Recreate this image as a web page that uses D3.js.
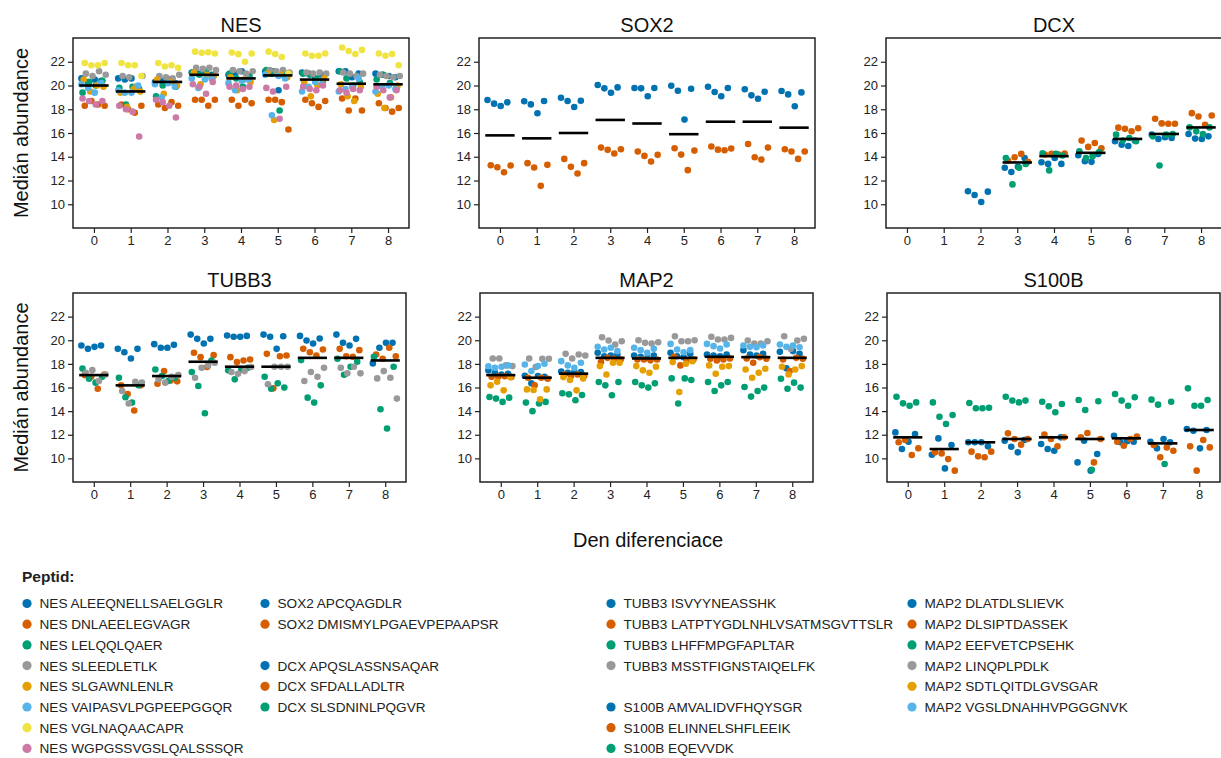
<!DOCTYPE html>
<html lang="cs">
<head>
<meta charset="UTF-8">
<title>Median abundance</title>
<script src="https://d3js.org/d3.v7.min.js"></script>
<style>
  body { margin: 0; background: #fff; font-family: "Liberation Sans", Arial, sans-serif; }
  .tick text { font-family: "Liberation Sans Narrow", "Arial Narrow", "Liberation Sans", Arial, sans-serif; font-size: 13px; fill: #222; }
  .tick line { stroke: #222; stroke-width: 1.2px; }
  .frame { fill: none; stroke: #222; stroke-width: 1.5px; }
  .title { font-size: 20px; fill: #111; text-anchor: middle; }
  .axis-label { font-size: 20px; fill: #111; text-anchor: middle; }
  .legend text { font-size: 13.6px; fill: #222; }
</style>
</head>
<body>
<script>
// Okabe-Ito colours used for the peptides
const C = {
  blue: "#0072B2", verm: "#D55E00", green: "#009E73", gray: "#999999",
  orange: "#E69F00", sky: "#56B4E9", yellow: "#F0E442", pink: "#CC79A7"
};

const days = [0, 1, 2, 3, 4, 5, 6, 7, 8];
const yTicks = [10, 12, 14, 16, 18, 20, 22];

// ---- NES ----
const nesPeptides = ["NES ALEEQNELLSAELGGLR", "NES DNLAEELEGVAGR", "NES LELQQLQAER", "NES SLEEDLETLK",
  "NES SLGAWNLENLR", "NES VAIPASVLPGPEEPGGQR", "NES VGLNAQAACAPR", "NES WGPGSSVGSLQALSSSQR"];
const nesColors = [C.blue, C.verm, C.green, C.gray, C.orange, C.sky, C.yellow, C.pink];
const nesValues = [
  [[20.6,20.3,20.5,20.4],[20.6,20.5,20.6,19.8],[20.3,20.4,20.5,20.2],[21.1,21.0,21.2,20.9],[20.9,21.0,21.2,20.8],[21.2,21.0,19.6,20.9],[21.1,21.0,20.6,20.9],[21.2,21.2,20.7,21.0],[21.0,20.9,20.8,20.7]],
  [[18.3,18.7,18.4,18.3],[18.4,18.0,17.7,18.3],[18.4,18.1,18.6,18.3],[18.8,18.8,18.3,18.8],[18.8,18.3,18.8,18.5],[18.8,18.8,18.6,16.3],[18.8,18.5,18.2,18.7],[18.9,17.9,18.9,17.9],[18.5,18.1,17.8,18.1]],
  [[19.4,20.3,20.0,20.4],[19.8,18.4,19.9,19.7],[19.1,20.0,20.5,19.9],[21.1,20.9,21.2,20.7],[21.0,20.6,19.9,20.8],[21.3,21.2,17.9,21.0],[21.0,20.9,20.6,20.4],[21.2,20.6,20.0,20.3],[20.5,20.9,20.2,19.8]],
  [[21.0,20.8,21.2,20.9],[20.8,20.7,19.9,20.8],[20.8,20.7,20.6,20.9],[21.5,21.4,21.5,21.3],[21.3,21.2,21.0,21.2],[21.3,21.2,21.3,21.1],[21.1,21.0,21.1,21.0],[21.1,21.0,20.8,21.0],[20.9,20.8,20.7,20.8]],
  [[20.5,19.5,20.0,19.9],[19.4,18.2,19.7,19.5],[20.5,19.3,20.3,20.0],[21.1,20.1,20.9,20.8],[20.7,19.6,20.5,20.3],[21.0,17.1,20.9,20.7],[20.3,19.1,20.0,20.6],[20.1,19.1,18.7,19.9],[19.3,18.1,19.0,20.0]],
  [[20.1,19.8,19.4,20.2],[19.6,19.4,19.4,20.0],[20.1,19.0,20.2,19.9],[20.6,19.8,20.5,20.6],[20.2,19.6,20.4,20.5],[20.9,17.5,20.8,20.6],[19.5,19.9,20.3,20.1],[19.5,19.7,19.9,20.6],[19.5,19.9,20.0,19.7]],
  [[21.9,21.7,21.7,21.9],[21.9,21.7,21.7,20.8],[21.9,21.6,21.7,21.5],[22.85,22.75,22.8,22.7],[22.78,22.64,22.0,22.7],[22.85,22.65,22.4,21.0],[22.7,22.5,22.5,22.7],[23.2,22.9,22.65,23.0],[22.7,22.5,22.65,21.7]],
  [[18.9,18.7,18.4,18.7],[18.3,18.0,17.8,15.7],[18.8,18.6,18.3,17.3],[20.1,19.9,19.3,20.3],[19.9,20.0,19.7,19.9],[19.8,19.5,17.2,19.9],[19.9,19.7,19.6,20.0],[19.6,19.4,19.7,19.6],[19.9,19.6,19.0,19.6]]
];
const nesMedians = [20.0, 19.5, 20.3, 20.9, 20.6, 20.85, 20.5, 20.15, 20.1];

// ---- SOX2 ----
const sox2Peptides = ["SOX2 APCQAGDLR", "SOX2 DMISMYLPGAEVPEPAAPSR"];
const sox2Colors = [C.blue, C.verm];
const sox2Values = [
  [[18.78,18.47,18.27,18.58],[18.67,18.41,17.66,18.69],[18.97,18.69,18.19,18.72],[20.04,19.76,19.39,19.84],[19.79,19.76,19.09,19.79],[19.98,19.56,17.13,19.73],[19.9,19.45,19.09,19.79],[19.68,19.17,18.89,19.48],[19.54,19.25,18.25,19.42]],
  [[13.29,13.12,12.70,13.26],[13.46,13.09,11.55,13.32],[13.82,13.15,12.59,13.46],[14.77,14.58,14.27,14.63],[14.44,14.07,13.6,14.16],[14.72,14.18,12.87,14.52],[14.86,14.6,14.55,14.69],[15.08,13.96,13.76,14.77],[14.63,14.44,13.82,14.44]]
];
const sox2Medians = [15.8, 15.55, 16.0, 17.1, 16.8, 15.9, 16.95, 16.95, 16.45];

// ---- DCX ----
const dcxPeptides = ["DCX APQSLASSNSAQAR", "DCX SFDALLADLTR", "DCX SLSDNINLPQGVR"];
const dcxColors = [C.blue, C.verm, C.green];
const dcxValues = [
  [null, null, [11.09,10.78,10.19,11.06],[13.07,12.71,13.15,13.9],[13.54,13.4,13.9,13.4],[14.13,13.63,13.57,14.24],[15.3,15.02,14.91,15.36],[15.86,15.5,15.64,15.58],[15.92,15.53,15.5,15.72]],
  [null, null, null, [13.68,13.96,14.24,13.57],[14.19,14.24,14.21,14.27],[15.36,14.83,15.16,14.72],[16.45,16.35,16.15,16.4],[17.2,16.81,16.78,16.78],[17.67,17.39,16.7,17.48]],
  [null, null, null, [13.9,11.67,13.07,13.4],[14.3,12.85,14.24,14.1],[14.46,13.9,14.05,14.4],[15.86,15.36,15.58,15.3],[15.72,13.26,15.86,15.92],[16.47,16.14,15.92,16.47]]
];
const dcxMedians = [null, null, null, 13.52, 14.05, 14.33, 15.5, 15.92, 16.47];

// ---- TUBB3 ----
const tubb3Peptides = ["TUBB3 ISVYYNEASSHK", "TUBB3 LATPTYGDLNHLVSATMSGVTTSLR", "TUBB3 LHFFMPGFAPLTAR", "TUBB3 MSSTFIGNSTAIQELFK"];
const tubb3Colors = [C.blue, C.verm, C.green, C.gray];
const tubb3Values = [
  [[19.55,19.27,19.44,19.55],[19.27,18.99,18.46,19.27],[19.67,19.36,19.36,19.61],[20.48,20.12,19.72,20.12],[20.4,20.29,20.29,20.37],[20.48,20.29,19.27,20.34],[20.37,19.98,19.72,20.15],[20.48,19.78,19.55,20.12],[18.04,19.36,19.78,19.78]],
  [[17.05,16.91,15.9,17.1],[16.18,15.45,14.05,16.18],[16.32,17.39,16.6,16.52],[18.94,18.57,17.73,18.74],[18.57,18.15,18.29,18.37],[18.85,15.93,18.65,18.71],[19.27,18.99,18.71,19.22],[19.27,18.65,18.6,19.16],[18.8,18.43,19.36,18.65]],
  [[17.6,16.75,16.41,16.9],[16.83,15.17,14.72,16.18],[17.53,16.97,16.55,16.83],[17.31,16.13,13.82,18.29],[17.45,16.69,17.53,17.67],[16.91,15.9,16.35,15.99],[18.32,15.14,14.72,16.18],[18.43,17.08,17.76,18.18],[18.6,14.16,12.53,17.76]],
  [[17.25,17.47,16.55,17.1],[15.7,14.64,16.49,16.41],[16.69,16.41,16.91,17.05],[16.83,17.67,17.87,18.09],[17.31,17.17,17.39,17.73],[16.27,17.76,17.76,17.76],[16.55,17.31,16.91,17.67],[17.67,17.2,17.76,17.2],[16.77,17.39,16.83,15.06]]
];
const tubb3Medians = [17.05, 16.18, 16.97, 18.18, 17.76, 17.76, 18.51, 18.51, 18.29];

// ---- MAP2 ----
const map2Peptides = ["MAP2 DLATDLSLIEVK", "MAP2 DLSIPTDASSEK", "MAP2 EEFVETCPSEHK", "MAP2 LINQPLPDLK",
  "MAP2 SDTLQITDLGVSGAR", "MAP2 VGSLDNAHHVPGGGNVK"];
const map2Colors = [C.blue, C.verm, C.green, C.gray, C.orange, C.sky];
const map2Values = [
  [[17.45,17.25,17.1,17.17],[17.0,16.35,16.97,16.9],[17.36,17.25,17.31,17.31],[18.94,18.65,18.71,18.8],[18.71,18.6,18.51,18.71],[18.94,18.65,18.57,18.85],[18.8,18.71,18.65,18.8],[19.16,18.8,18.71,18.85],[19.02,17.62,19.08,18.85]],
  [[16.9,16.92,16.95,16.88],[16.83,16.18,16.83,16.74],[17.1,16.97,17.1,17.0],[18.15,18.51,18.43,18.37],[18.37,18.37,18.3,18.37],[18.6,17.87,18.29,18.37],[18.43,18.29,18.37,18.46],[18.46,18.09,18.57,18.43],[18.37,17.39,18.51,18.43]],
  [[15.2,15.06,14.78,15.14],[14.72,14.0,14.64,14.78],[15.51,15.42,14.92,15.37],[16.46,16.18,15.34,16.46],[16.46,16.18,15.99,16.35],[16.77,14.64,16.77,16.63],[16.46,15.7,16.18,16.46],[16.04,15.23,15.7,15.99],[16.74,15.9,16.41,15.99]],
  [[18.46,18.46,17.87,17.81],[18.46,17.73,18.43,18.43],[18.85,18.46,18.8,18.71],[20.26,19.98,19.64,19.92],[20.0,19.78,19.72,19.83],[20.34,19.92,19.92,20.0],[20.29,20.06,20.06,20.2],[19.98,19.72,19.72,19.92],[20.34,19.27,19.98,20.12]],
  [[16.18,16.49,15.76,16.88],[15.84,15.79,15.0,15.84],[16.88,16.63,15.76,16.77],[17.81,17.1,18.09,18.09],[17.81,17.45,17.25,17.76],[18.15,15.62,18.01,18.23],[17.87,17.17,17.76,17.81],[17.53,16.83,17.25,17.59],[17.76,17.1,17.53,17.81]],
  [[17.8,17.67,17.76,17.87],[17.95,17.39,17.81,18.01],[18.23,17.87,17.67,18.09],[19.44,19.22,19.36,19.08],[19.36,19.16,18.94,19.27],[19.69,19.22,18.99,19.16],[19.69,19.5,19.3,19.64],[19.55,19.44,19.41,19.55],[19.64,19.44,19.55,19.41]]
];
const map2Medians = [17.05, 16.83, 17.17, 18.51, 18.46, 18.51, 18.6, 18.57, 18.51];

// ---- S100B ----
const s100bPeptides = ["S100B AMVALIDVFHQYSGR", "S100B ELINNELSHFLEEIK", "S100B EQEVVDK"];
const s100bColors = [C.blue, C.verm, C.green];
const s100bValues = [
  [[12.2,10.79,11.41,12.06],[10.31,11.69,9.15,11.13],[11.36,11.36,11.36,11.02],[11.5,10.99,10.51,11.55],[11.22,10.79,10.65,11.78],[9.66,11.5,8.96,10.37],[11.92,11.36,11.44,11.41],[11.41,10.85,11.64,11.36],[12.49,12.34,10.85,12.4]],
  [[11.36,11.55,10.28,10.85],[10.51,10.42,9.94,8.96],[10.57,10.17,10.09,10.57],[12.12,11.64,11.16,11.64],[12.01,11.64,11.02,11.78],[11.78,12.15,9.66,11.64],[11.41,11.07,11.64,11.84],[11.13,10.09,10.93,10.65],[11.02,8.96,11.55,10.93]],
  [[15.22,14.66,14.46,14.74],[14.74,13.53,12.91,13.67],[14.69,14.24,14.24,14.29],[15.22,14.89,14.74,14.89],[14.8,14.41,13.9,14.6],[14.94,14.1,9.04,14.83],[15.45,14.89,14.46,15.17],[14.97,14.55,9.52,14.8],[15.93,14.46,14.46,14.94]]
];
const s100bMedians = [11.78, 10.79, 11.36, 11.64, 11.78, 11.64, 11.7, 11.27, 12.4];

const panels = [
  { title: "NES", peptides: nesPeptides, colors: nesColors, values: nesValues, medians: nesMedians },
  { title: "SOX2", peptides: sox2Peptides, colors: sox2Colors, values: sox2Values, medians: sox2Medians },
  { title: "DCX", peptides: dcxPeptides, colors: dcxColors, values: dcxValues, medians: dcxMedians },
  { title: "TUBB3", peptides: tubb3Peptides, colors: tubb3Colors, values: tubb3Values, medians: tubb3Medians },
  { title: "MAP2", peptides: map2Peptides, colors: map2Colors, values: map2Values, medians: map2Medians },
  { title: "S100B", peptides: s100bPeptides, colors: s100bColors, values: s100bValues, medians: s100bMedians }
];

const width = 1221, height = 758;
const svg = d3.select("body").append("svg").attr("width", width).attr("height", height);

// layout of the 2x3 grid
const rowTop = [38, 293], rowH = [190, 189];
const colLeft = [[73, 479, 886], [73, 480, 887]];
const colW = [336, 333];
const repOffset = [-0.28, -0.1, 0.08, 0.26];

panels.forEach((p, i) => {
  const row = Math.floor(i / 3), col = i % 3;
  const left = colLeft[row][col], top = rowTop[row], w = colW[row], h = rowH[row];
  const x = d3.scaleLinear().domain([-0.57, 8.57]).range([left, left + w]);
  const y = d3.scaleLinear().domain([8, 24]).range([top + h, top]);
  const g = svg.append("g");

  g.append("g").attr("transform", `translate(${left},0)`)
    .call(d3.axisLeft(y).tickValues(yTicks).tickSize(5).tickPadding(3))
    .call(a => a.select(".domain").remove())
    .attr("font-family", null).attr("font-size", null);
  g.append("g").attr("transform", `translate(0,${top + h})`)
    .call(d3.axisBottom(x).tickValues(days).tickSize(5).tickPadding(3))
    .call(a => a.select(".domain").remove())
    .attr("font-family", null).attr("font-size", null);

  // points: one per peptide x day x replicate
  const pts = [];
  p.values.forEach((pep, pi) => {
    const shift = (((pi * 3) % 5) - 2) * 0.03;
    pep.forEach((reps, d) => {
      if (!reps) return;
      reps.forEach((v, r) => pts.push({ day: days[d], off: repOffset[r] + shift, v, color: p.colors[pi] }));
    });
  });
  g.append("g").selectAll("circle").data(pts).join("circle")
    .attr("cx", d => x(d.day + d.off))
    .attr("cy", d => y(d.v))
    .attr("r", 3.3)
    .attr("fill", d => d.color);

  // median per day
  g.append("g").selectAll("line")
    .data(days.map((d, k) => ({ day: d, m: p.medians[k] })).filter(d => d.m != null))
    .join("line")
    .attr("x1", d => x(d.day - 0.4)).attr("x2", d => x(d.day + 0.4))
    .attr("y1", d => y(d.m)).attr("y2", d => y(d.m))
    .attr("stroke", "#000").attr("stroke-width", 2.6);

  g.append("rect").attr("class", "frame")
    .attr("x", left).attr("y", top).attr("width", w).attr("height", h);

  g.append("text").attr("class", "title")
    .attr("x", left + w / 2).attr("y", top - 6).text(p.title);

  if (col === 0) {
    svg.append("text").attr("class", "axis-label")
      .attr("transform", `translate(28,${top + h / 2}) rotate(-90)`)
      .text("Medián abundance");
  }
});

svg.append("text").attr("class", "axis-label")
  .attr("x", 648).attr("y", 547).text("Den diferenciace");

// legend
const legendCols = [
  { x: 27, items: nesPeptides.map((t, k) => ({ t, c: nesColors[k], row: k })) },
  { x: 265, items: sox2Peptides.map((t, k) => ({ t, c: sox2Colors[k], row: k }))
      .concat(dcxPeptides.map((t, k) => ({ t, c: dcxColors[k], row: k + 3 }))) },
  { x: 611, items: tubb3Peptides.map((t, k) => ({ t, c: tubb3Colors[k], row: k }))
      .concat(s100bPeptides.map((t, k) => ({ t, c: s100bColors[k], row: k + 5 }))) },
  { x: 912, items: map2Peptides.map((t, k) => ({ t, c: map2Colors[k], row: k })) }
];
const legend = svg.append("g").attr("class", "legend");
legend.append("text").attr("x", 22).attr("y", 582)
  .style("font-weight", "bold").style("font-size", "15.5px").text("Peptid:");
legendCols.forEach(col => {
  const items = legend.append("g").selectAll("g").data(col.items).join("g")
    .attr("transform", d => `translate(${col.x},${603.5 + d.row * 20.7})`);
  items.append("circle").attr("r", 4.6).attr("fill", d => d.c);
  items.append("text").attr("x", 12.5).attr("dy", "0.36em").text(d => d.t);
});
</script>
</body>
</html>
